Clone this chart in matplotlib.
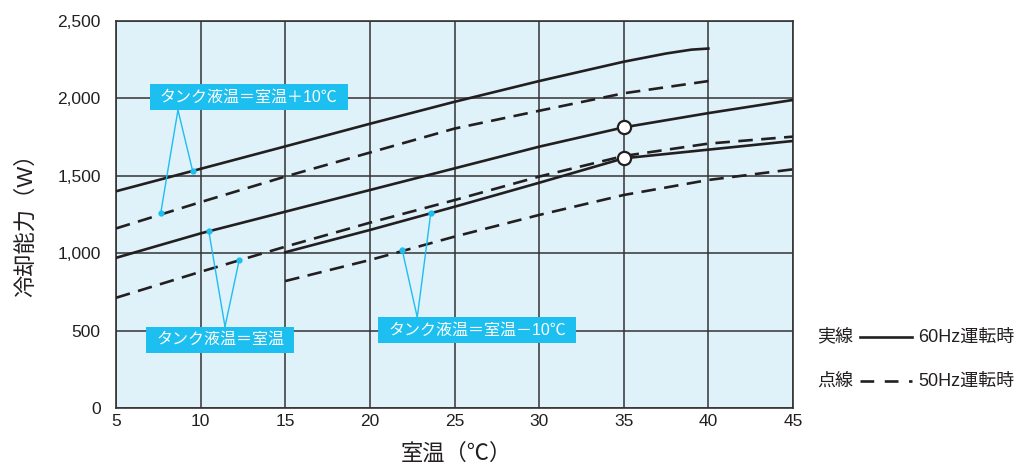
import matplotlib
matplotlib.use("Agg")
import matplotlib.pyplot as plt
from matplotlib.lines import Line2D
from matplotlib.patches import Rectangle

FONTS = ['Liberation Sans', 'Noto Sans CJK JP', 'DejaVu Sans']
plt.rcParams['font.family'] = FONTS

# ---- data ----
x_full = [5, 10, 15, 20, 25, 30, 35, 40, 45]
x_p10_60 = [5, 10, 15, 20, 25, 30, 35, 37.5, 39, 40]
x_p10_50 = [5, 10, 15, 20, 25, 30, 35, 40]
x_m10 = [15, 20, 25, 30, 35, 40, 45]

hz60_p10 = [1400, 1545, 1690, 1836, 1978, 2112, 2237, 2290, 2315, 2322]
hz50_p10 = [1160, 1330, 1495, 1650, 1805, 1920, 2033, 2112]
hz60_room = [970, 1128, 1268, 1408, 1548, 1688, 1813, 1905, 1990]
hz50_room = [712, 880, 1042, 1197, 1343, 1495, 1628, 1708, 1753]
hz60_m10 = [1006, 1150, 1300, 1455, 1613, 1669, 1725]
hz50_m10 = [820, 956, 1107, 1247, 1376, 1473, 1542]

rated_x = [35, 35]
rated_y = [1813, 1613]

xticks = [5, 10, 15, 20, 25, 30, 35, 40, 45]
yticks = [0, 500, 1000, 1500, 2000, 2500]
ytick_labels = ['0', '500', '1,000', '1,500', '2,000', '2,500']

label_p10 = 'タンク液温＝室温＋10℃'
label_room = 'タンク液温＝室温'
label_m10 = 'タンク液温＝室温－10℃'

# ---- style ----
BG = '#dff1f9'
GRID = '#333333'
LINE = '#231f20'
CYAN = '#1cbff0'
TXT = '#231f20'

fig = plt.figure(figsize=(10.22, 4.68), dpi=100)
ax = fig.add_axes([116/1022, 60/468, 677/1022, 387/468])
ax.set_facecolor(BG)
ax.set_xlim(5, 45)
ax.set_ylim(0, 2500)
ax.set_xticks(xticks)
ax.set_yticks(yticks)
ax.set_yticklabels(ytick_labels)
ax.tick_params(length=0, labelsize=12.5, colors=TXT)
ax.tick_params(axis='y', pad=11)
ax.tick_params(axis='x', pad=4)
ax.grid(True, color=GRID, lw=1.1)
ax.set_axisbelow(True)
for s in ax.spines.values():
    s.set_color(GRID)
    s.set_linewidth(1.2)

lw = 1.9
dash = (0, (5.5, 3.2))
ax.plot(x_p10_60, hz60_p10, color=LINE, lw=lw, zorder=3)
ax.plot(x_p10_50, hz50_p10, color=LINE, lw=lw, ls=dash, zorder=3)
ax.plot(x_full, hz60_room, color=LINE, lw=lw, zorder=3)
ax.plot(x_full, hz50_room, color=LINE, lw=lw, ls=dash, zorder=3)
ax.plot(x_m10, hz60_m10, color=LINE, lw=lw, zorder=3)
ax.plot(x_m10, hz50_m10, color=LINE, lw=lw, ls=dash, zorder=3)
ax.plot(rated_x, rated_y, ls='none', marker='o', ms=9.5, mfc='white',
        mec=LINE, mew=1.6, zorder=5)

# ---- annotations ----
def callout(text, box, apex, pts):
    x0, y0, x1, y1 = box
    for (px, py) in pts:
        ax.plot([apex[0], px], [apex[1], py], color=CYAN, lw=1.0, zorder=4)
        ax.plot([px], [py], marker='o', ms=3.5, color=CYAN, zorder=4)
    ax.add_patch(Rectangle((x0, y0), x1 - x0, y1 - y0, facecolor=CYAN,
                           edgecolor='none', zorder=6))
    ax.text((x0 + x1) / 2, (y0 + y1) / 2, text, color='white', fontsize=11.5,
            ha='center', va='center', zorder=7, family=FONTS)

callout(label_p10, (7.0, 1925, 18.7, 2093), (8.66, 1925),
        [(7.64, 1258), (9.53, 1531)])
callout(label_room, (6.8, 357, 15.5, 525), (11.44, 525),
        [(10.48, 1145), (12.28, 956)])
callout(label_m10, (20.5, 422, 32.2, 586), (22.8, 586),
        [(21.91, 1021), (23.6, 1262)])

# ---- axis labels ----
fig.text(26/1022, 1 - 220/468, '冷却能力（W）', rotation=90, fontsize=16,
         ha='center', va='center', family=FONTS, color=TXT)
fig.text(456/1022, 1 - 454/468, '室温（℃）', fontsize=16,
         ha='center', va='center', family=FONTS, color=TXT)

# ---- legend (outside) ----
for ytop, kind, hz in [(337, '実線', '60Hz運転時'), (381, '点線', '50Hz運転時')]:
    yy = 1 - ytop / 468
    fig.text(817/1022, yy, kind, fontsize=13, ha='left', va='center',
             family=FONTS, color=TXT)
    fig.text(918/1022, yy, hz, fontsize=13, ha='left', va='center',
             family=FONTS, color=TXT)
    ls = '-' if kind == '実線' else (0, (5.2, 4.0))
    fig.add_artist(Line2D([860/1022, 912/1022], [yy, yy], color=LINE, lw=1.9,
                          ls=ls, transform=fig.transFigure))

fig.savefig('out.png', dpi=100)
